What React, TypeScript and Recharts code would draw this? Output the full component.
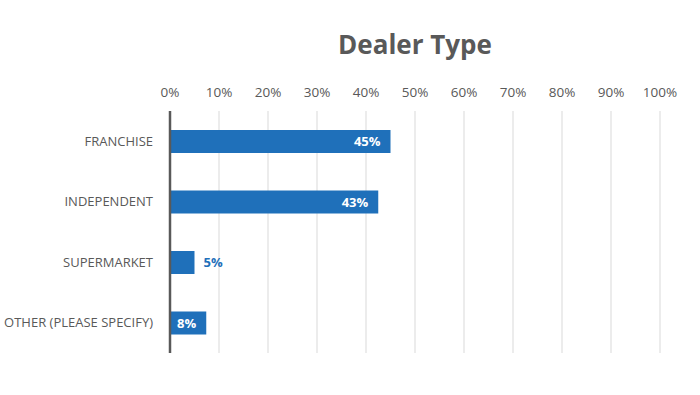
import { Bar, BarChart, CartesianGrid, LabelList, XAxis, YAxis } from "recharts";

const CATEGORIES = ["FRANCHISE", "INDEPENDENT", "SUPERMARKET", "OTHER (PLEASE SPECIFY)"];
const SHARES = [45, 42.5, 5, 7.4];
const LABELS = ["45%", "43%", "5%", "8%"];
const X_TICKS = [0, 10, 20, 30, 40, 50, 60, 70, 80, 90, 100];

const BLUE = "#1f70ba";
const TEXT = "#595959";
const FONT = "'Open Sans', 'Noto Sans', sans-serif";

const data = CATEGORIES.map((name, i) => ({ name, share: SHARES[i], label: LABELS[i] }));

function BarLabel(props: any) {
  const { x, y, width, height, index } = props;
  const d = data[index];
  const inside = d.share >= 7;
  const end = Number(x) + Number(width);
  return (
    <text
      x={inside ? end - 10 : end + 9}
      y={Number(y) + Number(height) / 2}
      dy="0.36em"
      textAnchor={inside ? "end" : "start"}
      fill={inside ? "#ffffff" : BLUE}
      fontFamily={FONT}
      fontWeight={700}
      fontSize={13}
    >
      {d.label}
    </text>
  );
}

// single-line category label, right aligned
function CategoryTick(props: any) {
  const { x, y, payload } = props;
  return (
    <text
      x={Number(x) - 15}
      y={Number(y)}
      dy="0.36em"
      textAnchor="end"
      fill={TEXT}
      fontFamily={FONT}
      fontSize={13}
    >
      {payload.value}
    </text>
  );
}

export default function App() {
  return (
    <div style={{ position: "fixed", left: 0, top: 0, width: 700, height: 395, background: "#fff" }}>
      <div
        style={{
          position: "absolute",
          left: 170,
          width: 490,
          top: 27,
          textAlign: "center",
          fontFamily: FONT,
          fontWeight: 700,
          fontSize: 26,
          color: TEXT,
          lineHeight: "34px",
        }}
      >
        Dealer Type
      </div>
      <BarChart
        width={700}
        height={395}
        data={data}
        layout="vertical"
        margin={{ top: 91, right: 40, bottom: 42, left: 0 }}
        barCategoryGap={0}
      >
        <CartesianGrid horizontal={false} stroke="#d9d9d9" strokeWidth={1} />
        <XAxis
          type="number"
          orientation="top"
          domain={[0, 100]}
          ticks={X_TICKS}
          tickFormatter={(v) => `${v}%`}
          axisLine={false}
          tickLine={false}
          tickSize={0}
          tickMargin={14}
          height={20}
          tick={{ fill: TEXT, fontSize: 13.5, fontFamily: FONT }}
          interval={0}
        />
        <YAxis
          type="category"
          dataKey="name"
          width={170}
          axisLine={{ stroke: TEXT, strokeWidth: 2.5 }}
          tickLine={false}
          tickSize={0}
          tick={<CategoryTick />}
          interval={0}
        />
        <Bar dataKey="share" fill={BLUE} barSize={23} isAnimationActive={false}>
          <LabelList dataKey="share" content={BarLabel} />
        </Bar>
      </BarChart>
    </div>
  );
}
